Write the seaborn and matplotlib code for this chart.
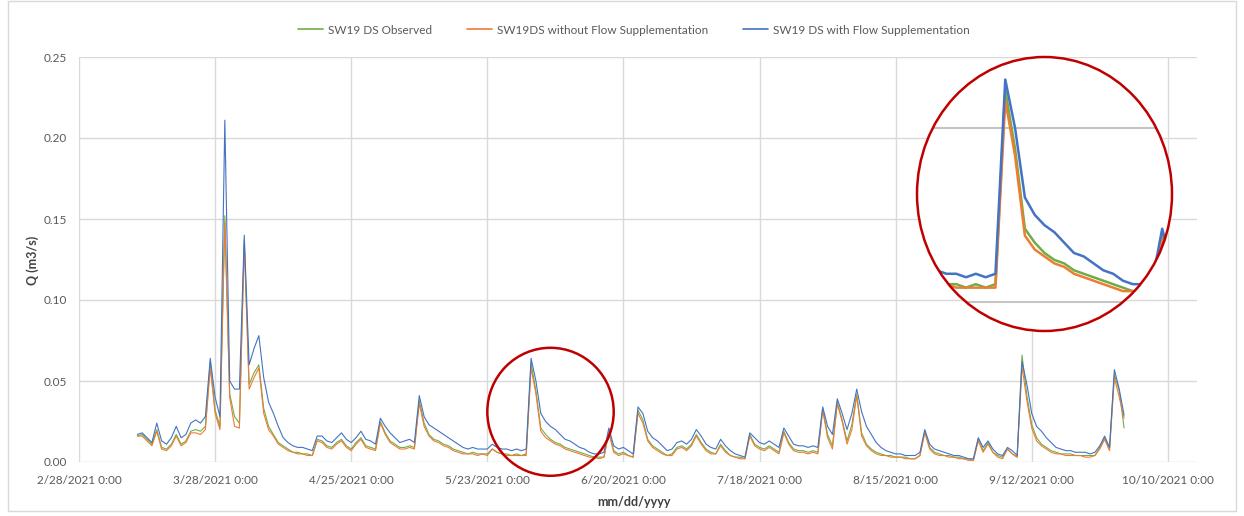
import numpy as np
import pandas as pd
import matplotlib
matplotlib.use("Agg")
import matplotlib.pyplot as plt
import matplotlib.dates as mdates
from matplotlib.patches import Ellipse, Rectangle
from matplotlib.lines import Line2D
import seaborn as sns

# Daily discharge (m3/s) at SW19 DS, starting 2021-03-12
start_date = "2021-03-12"

observed = [
    0.016, 0.017, 0.014, 0.011, 0.020, 0.009, 0.008, 0.011, 0.017, 0.011,
    0.013, 0.019, 0.020, 0.019, 0.022, 0.062, 0.032, 0.022, 0.152, 0.042,
    0.028, 0.024, 0.137, 0.048, 0.055, 0.060, 0.033, 0.022, 0.017, 0.012,
    0.010, 0.008, 0.006, 0.006, 0.005, 0.005, 0.004, 0.014, 0.013, 0.010,
    0.009, 0.012, 0.014, 0.010, 0.008, 0.012, 0.015, 0.010, 0.009, 0.008,
    0.025, 0.018, 0.013, 0.011, 0.009, 0.009, 0.010, 0.009, 0.038, 0.024,
    0.017, 0.014, 0.013, 0.011, 0.010, 0.008, 0.007, 0.006, 0.005, 0.006,
    0.005, 0.005, 0.005, 0.008, 0.006, 0.005, 0.005, 0.004, 0.005, 0.004,
    0.005, 0.061, 0.044, 0.021, 0.017, 0.014, 0.012, 0.011, 0.009, 0.008,
    0.007, 0.006, 0.005, 0.004, 0.003, 0.003, 0.003, 0.019, 0.007, 0.005,
    0.006, 0.004, 0.003, 0.032, 0.026, 0.014, 0.010, 0.008, 0.006, 0.004,
    0.005, 0.009, 0.010, 0.008, 0.011, 0.017, 0.012, 0.008, 0.006, 0.005,
    0.011, 0.007, 0.004, 0.003, 0.003, 0.002, 0.017, 0.011, 0.009, 0.008,
    0.010, 0.008, 0.006, 0.019, 0.012, 0.008, 0.007, 0.007, 0.006, 0.007,
    0.006, 0.033, 0.017, 0.010, 0.037, 0.026, 0.013, 0.023, 0.042, 0.018,
    0.011, 0.008, 0.006, 0.005, 0.004, 0.004, 0.003, 0.003, 0.003, 0.002,
    0.002, 0.004, 0.019, 0.009, 0.006, 0.005, 0.004, 0.004, 0.003, 0.003,
    0.002, 0.002, 0.001, 0.014, 0.007, 0.012, 0.006, 0.004, 0.003, 0.008,
    0.005, 0.003, 0.066, 0.041, 0.023, 0.015, 0.011, 0.009, 0.007, 0.006,
    0.005, 0.005, 0.005, 0.004, 0.004, 0.004, 0.004, 0.004, 0.009, 0.015,
    0.008, 0.054, 0.044, 0.021,
]

without_supplementation = [
    0.016, 0.016, 0.013, 0.010, 0.019, 0.008, 0.007, 0.010, 0.016, 0.010,
    0.012, 0.018, 0.018, 0.017, 0.020, 0.058, 0.030, 0.020, 0.148, 0.040,
    0.022, 0.021, 0.135, 0.045, 0.052, 0.058, 0.030, 0.020, 0.016, 0.011,
    0.009, 0.007, 0.006, 0.005, 0.005, 0.004, 0.004, 0.013, 0.012, 0.009,
    0.008, 0.011, 0.013, 0.009, 0.007, 0.011, 0.014, 0.009, 0.008, 0.007,
    0.024, 0.017, 0.012, 0.010, 0.008, 0.008, 0.009, 0.008, 0.036, 0.022,
    0.016, 0.013, 0.012, 0.010, 0.009, 0.007, 0.006, 0.005, 0.005, 0.005,
    0.004, 0.005, 0.004, 0.008, 0.006, 0.005, 0.004, 0.004, 0.004, 0.004,
    0.004, 0.058, 0.042, 0.019, 0.015, 0.013, 0.011, 0.010, 0.008, 0.007,
    0.006, 0.005, 0.004, 0.003, 0.003, 0.002, 0.003, 0.018, 0.006, 0.004,
    0.005, 0.004, 0.003, 0.030, 0.024, 0.013, 0.009, 0.007, 0.005, 0.004,
    0.004, 0.008, 0.009, 0.007, 0.010, 0.016, 0.011, 0.007, 0.005, 0.005,
    0.010, 0.006, 0.004, 0.003, 0.002, 0.002, 0.016, 0.010, 0.008, 0.007,
    0.009, 0.007, 0.005, 0.018, 0.011, 0.007, 0.006, 0.006, 0.005, 0.006,
    0.005, 0.032, 0.015, 0.008, 0.036, 0.025, 0.011, 0.020, 0.041, 0.016,
    0.010, 0.007, 0.005, 0.004, 0.004, 0.003, 0.003, 0.003, 0.002, 0.002,
    0.002, 0.004, 0.018, 0.008, 0.005, 0.004, 0.004, 0.003, 0.003, 0.002,
    0.002, 0.001, 0.001, 0.013, 0.006, 0.011, 0.006, 0.003, 0.002, 0.008,
    0.005, 0.003, 0.059, 0.038, 0.021, 0.013, 0.010, 0.008, 0.006, 0.005,
    0.005, 0.004, 0.004, 0.004, 0.004, 0.003, 0.003, 0.004, 0.008, 0.014,
    0.007, 0.052, 0.040, 0.027,
]

with_supplementation = [
    0.017, 0.018, 0.015, 0.012, 0.024, 0.013, 0.011, 0.015, 0.022, 0.015,
    0.017, 0.024, 0.026, 0.024, 0.028, 0.064, 0.040, 0.028, 0.211, 0.050,
    0.045, 0.045, 0.140, 0.060, 0.070, 0.078, 0.052, 0.037, 0.030, 0.022,
    0.015, 0.012, 0.010, 0.009, 0.009, 0.008, 0.007, 0.016, 0.016, 0.013,
    0.012, 0.015, 0.018, 0.014, 0.012, 0.015, 0.019, 0.014, 0.013, 0.011,
    0.027, 0.022, 0.018, 0.015, 0.012, 0.013, 0.014, 0.012, 0.041, 0.028,
    0.023, 0.021, 0.019, 0.017, 0.015, 0.013, 0.011, 0.009, 0.008, 0.009,
    0.008, 0.008, 0.008, 0.011, 0.009, 0.008, 0.008, 0.007, 0.008, 0.007,
    0.008, 0.064, 0.050, 0.030, 0.025, 0.022, 0.020, 0.017, 0.014, 0.013,
    0.011, 0.009, 0.008, 0.006, 0.005, 0.005, 0.006, 0.021, 0.010, 0.008,
    0.009, 0.007, 0.005, 0.034, 0.030, 0.019, 0.015, 0.013, 0.010, 0.007,
    0.008, 0.012, 0.013, 0.011, 0.014, 0.020, 0.016, 0.011, 0.009, 0.008,
    0.014, 0.010, 0.007, 0.005, 0.004, 0.003, 0.018, 0.015, 0.012, 0.011,
    0.013, 0.011, 0.009, 0.021, 0.016, 0.011, 0.010, 0.010, 0.009, 0.010,
    0.009, 0.034, 0.022, 0.017, 0.039, 0.030, 0.020, 0.030, 0.045, 0.031,
    0.022, 0.017, 0.012, 0.009, 0.007, 0.006, 0.005, 0.005, 0.004, 0.004,
    0.004, 0.006, 0.020, 0.011, 0.008, 0.007, 0.006, 0.005, 0.004, 0.004,
    0.003, 0.002, 0.002, 0.015, 0.009, 0.013, 0.008, 0.005, 0.004, 0.009,
    0.007, 0.004, 0.062, 0.048, 0.030, 0.022, 0.019, 0.015, 0.012, 0.009,
    0.008, 0.007, 0.007, 0.006, 0.006, 0.006, 0.005, 0.006, 0.010, 0.016,
    0.009, 0.057, 0.045, 0.029,
]

series_names = [
    "SW19 DS Observed",
    "SW19DS without Flow Supplementation",
    "SW19 DS with Flow Supplementation",
]
series_colors = ["#70AD47", "#ED7D31", "#4472C4"]

tick_dates = ["2021-02-28", "2021-03-28", "2021-04-25", "2021-05-23",
              "2021-06-20", "2021-07-18", "2021-08-15", "2021-09-12",
              "2021-10-10"]
tick_labels = ["2/28/2021 0:00", "3/28/2021 0:00", "4/25/2021 0:00",
               "5/23/2021 0:00", "6/20/2021 0:00", "7/18/2021 0:00",
               "8/15/2021 0:00", "9/12/2021 0:00", "10/10/2021 0:00"]
y_ticks = [0.00, 0.05, 0.10, 0.15, 0.20, 0.25]

# Window around the early-June event that is shown magnified
zoom_start, zoom_end = "2021-05-23", "2021-06-18"
zoom_low, zoom_high = -0.0085, 0.0705

dates = pd.date_range(start_date, periods=len(observed), freq="D")
df = pd.DataFrame({
    "date": np.tile(dates, 3),
    "Q": observed + without_supplementation + with_supplementation,
    "series": np.repeat(series_names, len(dates)),
})

sns.set_theme(style="white")
plt.rcParams["font.family"] = ["Lato", "DejaVu Sans"]

W, H = 1244, 516
fig = plt.figure(figsize=(W / 100, H / 100), dpi=100)
ax = fig.add_axes([79 / W, 1 - 462 / H, (1197 - 79) / W, (462 - 57) / H])

sns.lineplot(data=df, x="date", y="Q", hue="series", hue_order=series_names,
             palette=series_colors, linewidth=0.8, estimator=None,
             legend=False, ax=ax)

ax.set_xlim(pd.Timestamp("2021-02-28"), pd.Timestamp("2021-10-16"))
ax.set_ylim(0, 0.25)
ax.set_xticks(pd.to_datetime(tick_dates))
ax.set_xticklabels(tick_labels)
ax.set_yticks(y_ticks)
ax.set_yticklabels([f"{v:.2f}" for v in y_ticks])
ax.tick_params(axis="both", length=0, labelsize=8.5, labelcolor="#595959")
ax.tick_params(axis="x", pad=9)
ax.tick_params(axis="y", pad=9)
ax.grid(True, color="#d9d9d9", linewidth=1.0)
ax.set_axisbelow(True)
for s in ax.spines.values():
    s.set_visible(False)
ax.set_xlabel("")
ax.set_ylabel("")

fig.text(33 / W, 1 - 260 / H, "Q (m3/s)", rotation=90, ha="center",
         va="center", fontsize=9, fontweight="bold", color="#404040")
fig.text(634 / W, 1 - 502 / H, "mm/dd/yyyy", ha="center", va="center",
         fontsize=9, fontweight="bold", color="#404040")

handles = [Line2D([0], [0], color=c, lw=1.2) for c in series_colors]
fig.legend(handles, series_names, loc="center",
           bbox_to_anchor=(634 / W, 1 - 30 / H), ncol=3, frameon=False,
           fontsize=8.5, handlelength=2.1, handletextpad=0.4,
           columnspacing=3.0, labelcolor="#595959")

# Outer chart border
fig.patches.append(Rectangle((8 / W, 1 - 511 / H), (1236 - 8) / W, 510 / H,
                             transform=fig.transFigure, fill=False,
                             edgecolor="#d9d9d9", linewidth=1.0))

# Red ring marking the event in the main plot
x0 = pd.Timestamp(zoom_start)
x1 = pd.Timestamp(zoom_end)
cx = mdates.date2num(x0 + (x1 - x0) / 2)
ring = Ellipse((cx, (zoom_low + zoom_high) / 2),
               mdates.date2num(x1) - mdates.date2num(x0),
               zoom_high - zoom_low, fill=False, edgecolor="#C00000",
               linewidth=1.8, clip_on=False, zorder=6)
ax.add_patch(ring)

# Magnified view of the same event
axins = fig.add_axes([917 / W, 1 - 331 / H, 255 / W, 274 / H])
axins.patch.set_alpha(0)
disc = Ellipse((0.5, 0.5), 1, 1, transform=axins.transAxes,
               facecolor="white", edgecolor="none", zorder=0)
axins.add_patch(disc)
sns.lineplot(data=df, x="date", y="Q", hue="series", hue_order=series_names,
             palette=series_colors, linewidth=1.8, estimator=None,
             legend=False, ax=axins)
for yv in (0.0, 0.05):
    axins.axhline(yv, color="#c4c4c4", linewidth=1.5, zorder=1)
for ln in axins.lines:
    ln.set_clip_path(disc)
axins.set_xlim(x0, x1)
axins.set_ylim(zoom_low, zoom_high)
axins.axis("off")
axins.add_patch(Ellipse((0.5, 0.5), 1, 1, transform=axins.transAxes,
                        fill=False, edgecolor="#C00000", linewidth=1.8,
                        clip_on=False, zorder=6))

fig.savefig("out.png", dpi=100)
